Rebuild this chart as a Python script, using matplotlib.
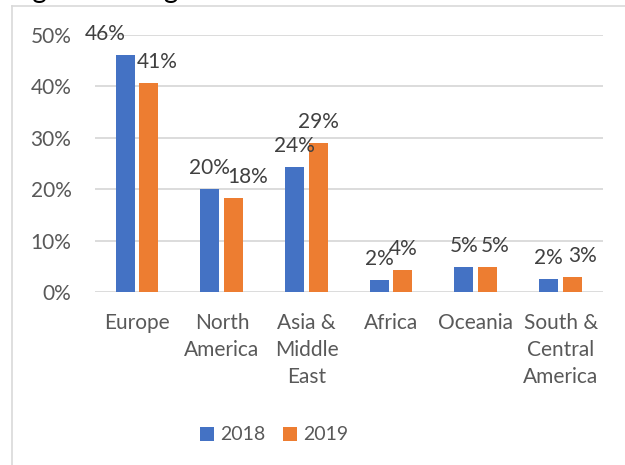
import matplotlib.pyplot as plt
from matplotlib.lines import Line2D
import numpy as np

plt.rcParams['font.family'] = ['Lato', 'DejaVu Sans']

# data
regions = ['Europe', 'North\nAmerica', 'Asia &\nMiddle\nEast', 'Africa',
           'Oceania', 'South &\nCentral\nAmerica']
share_2018 = [0.461, 0.200, 0.244, 0.023, 0.048, 0.025]
share_2019 = [0.406, 0.183, 0.289, 0.042, 0.048, 0.029]
labels_2018 = ['46%', '20%', '24%', '2%', '5%', '2%']
labels_2019 = ['41%', '18%', '29%', '4%', '5%', '3%']

# horizontal nudges (pixels) Excel applied to overlapping labels
nudge_2018 = [-20, 0, 0, 0, 0, 0]
nudge_2019 = [8, 14, 0, 0, 8, 10]

blue = '#4472C4'
orange = '#ED7D31'
grey = '#595959'
grid = '#D9D9D9'

fig = plt.figure(figsize=(6.25, 4.65), dpi=100)
ax = fig.add_axes([95 / 625, 1 - 292 / 465, 508 / 625, 257 / 465])

x = np.arange(len(regions))
w = 0.225
b1 = ax.bar(x - 0.145, share_2018, w, color=blue, label='2018', zorder=3)
b2 = ax.bar(x + 0.135, share_2019, w, color=orange, label='2019', zorder=3)

for bars, labs, nudges in [(b1, labels_2018, nudge_2018), (b2, labels_2019, nudge_2019)]:
    for bar, lab, dx in zip(bars, labs, nudges):
        ax.annotate(lab, (bar.get_x() + bar.get_width() / 2, bar.get_height()),
                    xytext=(dx, 21), textcoords='offset pixels',
                    ha='center', va='center', fontsize=15, color='#404040')

ax.set_xlim(-0.5, 5.5)
ax.set_ylim(0, 0.5)
ax.set_yticks(np.arange(0, 0.51, 0.1))
ax.set_yticklabels([f'{int(round(v * 100))}%' for v in np.arange(0, 0.51, 0.1)])
ax.set_xticks(x)
ax.set_xticklabels(regions, multialignment='center', linespacing=1.44)
ax.tick_params(axis='y', length=0, pad=17, labelsize=15, labelcolor=grey)
ax.tick_params(axis='x', length=0, pad=15, labelsize=15, labelcolor=grey)
ax.grid(axis='y', color=grid, linewidth=1.3, zorder=0)
for s in ax.spines.values():
    s.set_visible(False)

fig.legend(handles=[b1, b2], loc='center', bbox_to_anchor=(274 / 625, 1 - 435 / 465),
           ncol=2, frameon=False, fontsize=14, labelcolor=grey,
           handlelength=0.75, handleheight=0.75, handletextpad=0.3, columnspacing=0.9)

# chart area border (partly outside the crop)
top = 1 - 6 / 465
left = 11.5 / 625
fig.add_artist(Line2D([left, left], [0, top], color=grid, lw=1.2))
fig.add_artist(Line2D([left, 1], [top, top], color=grid, lw=1.2))

# caption above the chart, cut off by the crop
fig.text(10 / 625, 1 + 2 / 465, 'Figure 4: Origin of Submissions', fontsize=20,
         color='black', ha='left', va='baseline')

fig.savefig('out.png', dpi=100)
